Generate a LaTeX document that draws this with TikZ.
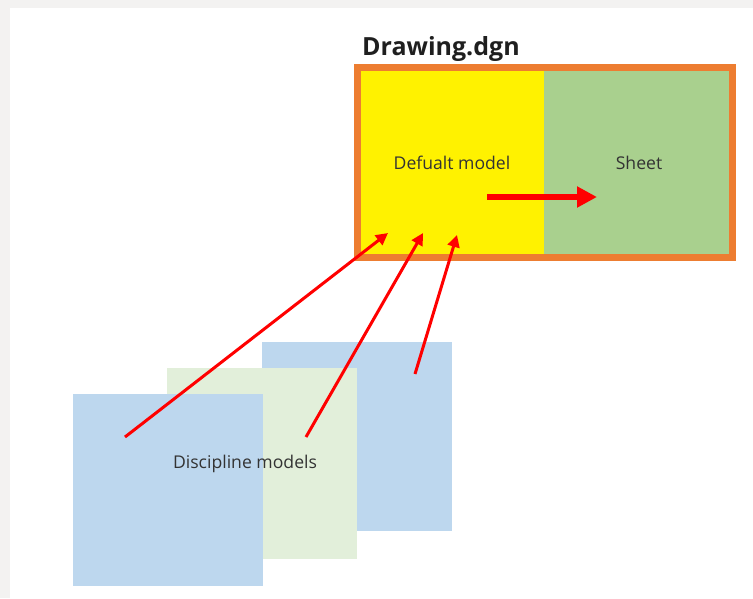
\documentclass[tikz,border=0pt]{standalone}
\usepackage{fontspec}
\setmainfont{Open Sans}
\usetikzlibrary{arrows.meta}
\definecolor{pagegray}{HTML}{F3F2F1}
\definecolor{modelblue}{HTML}{BDD7EE}
\definecolor{modelgreen}{HTML}{E2EFDA}
\definecolor{sheetgreen}{HTML}{A9D08E}
\definecolor{frameorange}{HTML}{ED7D31}
\definecolor{arrowred}{HTML}{FF0000}
\definecolor{txtgray}{HTML}{333333}
\tikzset{
  plane/.style={draw=none, inner sep=0pt, minimum width=190pt, minimum height=190pt},
  half/.style={draw=none, inner sep=0pt, minimum height=190pt},
  lbl/.style={text=txtgray, font=\fontsize{17.6}{20}\selectfont, inner sep=0pt},
  thinarrow/.style={draw=arrowred, line width=3pt, -{Triangle[length=12pt,width=12pt]}},
  thickarrow/.style={draw=arrowred, line width=5.5pt, -{Triangle[length=20pt,width=20pt]}}
}
\begin{document}
\begin{tikzpicture}[x=1pt,y=-1pt]
  % page background
  \fill[pagegray] (0,0) rectangle (753,598);
  \fill[white] (10,8) rectangle (753,598);
  \useasboundingbox (0,0) rectangle (753,598);

  % discipline model planes (back to front)
  \node[plane, fill=modelblue, minimum width=190pt, minimum height=189pt] (back) at (357,436.5) {};
  \node[plane, fill=modelgreen, minimum width=190pt, minimum height=191pt] (mid) at (262,463.5) {};
  \node[plane, fill=modelblue, minimum width=190pt, minimum height=192pt] (front) at (168,490) {};
  \node[lbl] (disc) at (245,464) {Discipline models};

  % Drawing.dgn
  \node[half, fill=yellow, minimum width=187pt] (default) at (450.5,162.5) {};
  \node[half, fill=sheetgreen, minimum width=189pt] (sheet) at (638.5,162.5) {};
  \node[draw=frameorange, line width=7pt, inner sep=0pt, minimum width=375pt, minimum height=190pt] (frame) at (545,162.5) {};
  \node[lbl] (deflbl) at (452,163) {Defualt model};
  \node[lbl] (sheetlbl) at (639,163) {Sheet};
  \node[font=\bfseries\fontsize{25}{28}\selectfont, text=black!88, anchor=base west, inner sep=0pt] (title) at (362,55) {Drawing.dgn};

  % arrow end points
  \coordinate (t1) at (125,437);
  \coordinate (t2) at (306,437);
  \coordinate (t3) at (415,374);
  \coordinate (h1) at (388,233);
  \coordinate (h2) at (423,233);
  \coordinate (h3) at (457,235);
  \coordinate (s0) at (487,197);
  \coordinate (s1) at (597,197);

  \draw[thinarrow] (t1) -- (h1);
  \draw[thinarrow] (t2) -- (h2);
  \draw[thinarrow] (t3) -- (h3);
  \draw[thickarrow] (s0) -- (s1);
\end{tikzpicture}
\end{document}
